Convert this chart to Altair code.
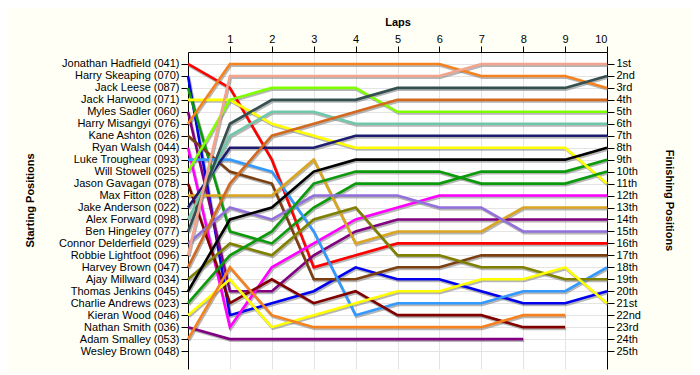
import altair as alt
import pandas as pd

# Starting grid (row order = starting position 1..25)
starters = [
    "Jonathan Hadfield (041)", "Harry Skeaping (070)", "Jack Leese (087)",
    "Jack Harwood (071)", "Myles Sadler (060)", "Harry Misangyi (076)",
    "Kane Ashton (026)", "Ryan Walsh (044)", "Luke Troughear (093)",
    "Will Stowell (025)", "Jason Gavagan (078)", "Max Fitton (028)",
    "Jake Anderson (022)", "Alex Forward (098)", "Ben Hingeley (077)",
    "Connor Delderfield (029)", "Robbie Lightfoot (096)", "Harvey Brown (047)",
    "Ajay Millward (034)", "Thomas Jenkins (045)", "Charlie Andrews (023)",
    "Kieran Wood (046)", "Nathan Smith (036)", "Adam Smalley (053)",
    "Wesley Brown (048)",
]
finish_labels = [
    "1st", "2nd", "3rd", "4th", "5th", "6th", "7th", "8th", "9th", "10th",
    "11th", "12th", "13th", "14th", "15th", "16th", "17th", "18th", "19th",
    "20th", "21st", "22nd", "23rd", "24th", "25th",
]
laps = list(range(0, 11))

# Position at lap 0..10 for each driver
hadfield = [1, 3, 9, 18, 17, 16, 16, 16, 16, 16, 16]
skeaping = [2, 22, 21, 20, 18, 19, 19, 20, 21, 21, 20]
leese = [3, 15, 16, 13, 11, 11, 11, 10, 10, 10, 9]
harwood = [4, 4, 6, 7, 8, 8, 8, 8, 8, 8, 11]
sadler = [5, 20, 20, 17, 15, 14, 14, 14, 14, 14, 14]
misangyi = [6, 1, 1, 1, 1, 1, 1, 2, 2, 2, 3]
ashton = [7, 10, 11, 19, 19, 18, 18, 17, 17, 17, 17]
walsh = [8, 23, 18, 16, 14, 13, 12, 12, 12, 12, 12]
troughear = [9, 9, 10, 15, 22, 21, 21, 21, 20, 20, 18]
stowell = [10, 4, 3, 3, 3, 5, 5, 5, 5, 5, 5]
gavagan = [11, 21, 19, 21, 20, 22, 22, 22, 23, 23]
fitton = [12, 12, 12, 9, 16, 15, 15, 15, 13, 13, 13]
anderson = [13, 8, 8, 8, 7, 7, 7, 7, 7, 7, 7]
forward = [14, 7, 5, 5, 6, 6, 6, 6, 6, 6, 6]
hingeley = [15, 6, 4, 4, 4, 3, 3, 3, 3, 3, 2]
delderfield = [16, 13, 14, 12, 12, 12, 13, 13, 15, 15, 15]
lightfoot = [17, 2, 2, 2, 2, 2, 2, 1, 1, 1, 1]
hbrown = [18, 11, 7, 6, 5, 4, 4, 4, 4, 4, 4]
millward = [19, 16, 17, 14, 13, 17, 17, 18, 18, 19, 19]
jenkins = [20, 14, 13, 10, 9, 9, 9, 9, 9, 9, 8]
andrews = [21, 17, 15, 11, 10, 10, 10, 11, 11, 11, 10]
wood = [22, 19, 23, 22, 21, 20, 20, 19, 19, 18, 21]
smith = [23, 24, 24, 24, 24, 24, 24, 24, 24]
smalley = [24, 18, 22, 23, 23, 23, 23, 23, 22, 22]
wbrown = []

positions = [
    hadfield, skeaping, leese, harwood, sadler, misangyi, ashton, walsh,
    troughear, stowell, gavagan, fitton, anderson, forward, hingeley,
    delderfield, lightfoot, hbrown, millward, jenkins, andrews, wood,
    smith, smalley, wbrown,
]
line_colors = [
    "#ff0000", "#0000ee", "#0a9a0a", "#ffff00", "#800080", "#f5821f",
    "#7b3f10", "#ff00ff", "#3399ff", "#80ff00", "#800000", "#daa520",
    "#1c1c70", "#70c8aa", "#344f4f", "#9370db", "#f4a48c", "#d2691e",
    "#808000", "#000000", "#0a9a0a", "#ffff00", "#800080", "#f5821f",
    "#999999",
]

rows = []
for name, pos in zip(starters, positions):
    for lap, p in zip(laps, pos):
        rows.append({"driver": name, "lap": lap, "pos": p})
df = pd.DataFrame(rows)

FONT = "Liberation Sans"
W, H = 419, 317
Y_MAX = 26.5

top_axis = alt.Axis(
    orient="top", values=list(range(1, 11)), format="d",
    title="Laps", titleFont=FONT, titleFontSize=11, titleFontWeight="bold",
    titleColor="#000", titlePadding=6,
    labelFont=FONT, labelFontSize=11, labelColor="#000", labelPadding=2,
    tickSize=6, tickColor="#000", domainColor="#000",
    grid=True, gridColor="#e4e4e4", gridWidth=1,
)
x_scale = alt.Scale(domain=[0, 10], nice=False, zero=False)

left_expr = "[" + ",".join("'" + n + "'" for n in starters) + "][datum.value - 1]"
right_expr = "[" + ",".join("'" + n + "'" for n in finish_labels) + "][datum.value - 1]"

y_left = alt.Y(
    "pos:Q",
    scale=alt.Scale(domain=[0, Y_MAX], reverse=True, nice=False, zero=False),
    axis=alt.Axis(
        orient="left", values=list(range(1, 26)), labelExpr=left_expr,
        title="Starting Positions", titleFont=FONT, titleFontSize=11,
        titleFontWeight="bold", titleColor="#000", titleX=-158, titleY=148,
        titleAngle=-90, titleAlign="center", titleBaseline="middle",
        labelFont=FONT, labelFontSize=11, labelColor="#000", labelPadding=2,
        tickSize=7, tickColor="#000", domainColor="#000",
        grid=True, gridColor="#e4e4e4", gridWidth=1,
    ),
)
y_right = alt.Y(
    "pos:Q",
    scale=alt.Scale(domain=[0, Y_MAX], reverse=True, nice=False, zero=False),
    axis=alt.Axis(
        orient="right", values=list(range(1, 26)), labelExpr=right_expr,
        title="Finishing Positions", titleFont=FONT, titleFontSize=11,
        titleFontWeight="bold", titleColor="#000", titleX=61, titleY=148,
        titleAngle=90, titleAlign="center", titleBaseline="middle",
        labelFont=FONT, labelFontSize=11, labelColor="#000", labelPadding=2,
        tickSize=7, tickColor="#000", domainColor="#000", grid=False,
    ),
)

color_enc = alt.Color(
    "driver:N",
    scale=alt.Scale(domain=starters, range=line_colors),
    legend=None,
)

shadow = alt.Chart(df).mark_line(
    strokeWidth=3, color="#7a7a7a", opacity=0.55, xOffset=1, yOffset=1.5,
).encode(
    x=alt.X("lap:Q", scale=x_scale, axis=top_axis),
    y=y_left, detail="driver:N", order="lap:Q",
)

lines = alt.Chart(df).mark_line(strokeWidth=2.6).encode(
    x=alt.X("lap:Q", scale=x_scale, axis=top_axis),
    y=y_right, color=color_enc, detail="driver:N", order="lap:Q",
)

chart = (
    alt.layer(shadow, lines)
    .resolve_scale(y="independent")
    .properties(
        width=W, height=H,
        autosize=alt.AutoSizeParams(type="none"),
        padding={"left": 180, "top": 44, "right": 85, "bottom": 4},
        background="#fffff5",
    )
    .configure_view(stroke=None, fill="#ffffff")
)

chart.save("out.html", embed_options={"renderer": "svg", "actions": False})
